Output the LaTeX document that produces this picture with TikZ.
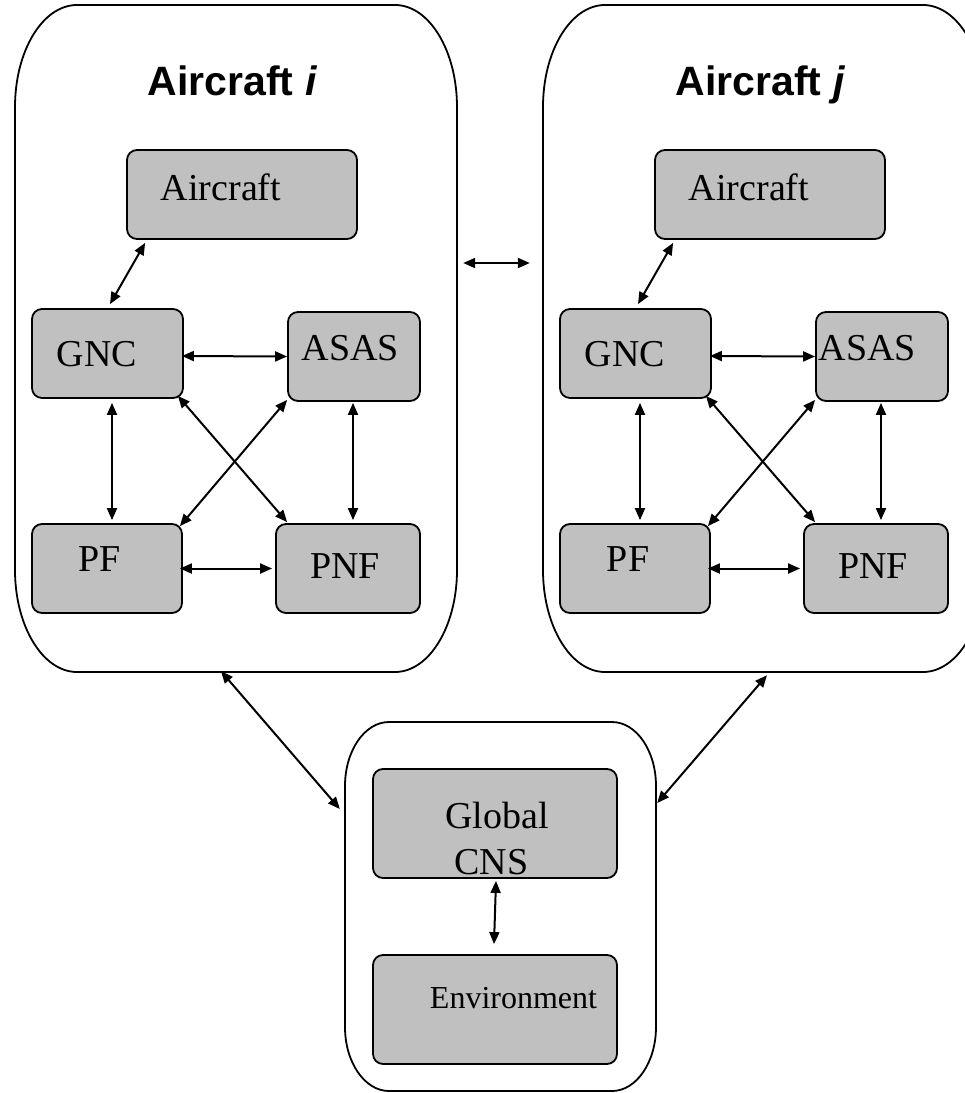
\documentclass[tikz,border=0pt]{standalone}
\usepackage{fontspec}
\setmainfont{Liberation Serif}
\newfontfamily\titlefont{Liberation Sans}
\usetikzlibrary{arrows.meta,calc}
\definecolor{boxgray}{RGB}{192,192,192}
\tikzset{
  blk/.style={draw=black, fill=boxgray, line width=1.8pt, rounded corners=10pt, inner sep=0pt},
  lbl/.style={anchor=base, inner sep=0pt, font=\fontsize{38}{45}\selectfont},
  ttl/.style={anchor=base, inner sep=0pt, font=\titlefont\bfseries\fontsize{41}{49}\selectfont},
  arr/.style={{Triangle[length=12pt,width=10pt]}-{Triangle[length=12pt,width=10pt]}, line width=2pt},
  outerbox/.style={draw=none, inner sep=0pt},
  frame/.style={line width=1.8pt, line join=round}
}
% #1 prefix, #2 x offset, #3 ASAS label x, #4 title letter
\newcommand\acblock[4]{%
  \node[ttl] (#1title) at ({#2+232.5},95) {Aircraft \textit{#4}};
  \node[blk, minimum width=230pt, minimum height=89pt] (#1air) at ({#2+242},194.5) {};
  \node[lbl] (#1airT) at ({#2+221},200) {Aircraft};
  \node[blk, minimum width=151pt, minimum height=89pt] (#1gnc) at ({#2+107.5},353.5) {};
  \node[lbl] (#1gncT) at ({#2+97},366) {GNC};
  \node[blk, minimum width=132pt, minimum height=89pt] (#1asas) at ({#2+354},356.5) {};
  \node[lbl] (#1asasT) at (#3,360) {ASAS};
  \node[blk, minimum width=150pt, minimum height=89pt] (#1pf) at ({#2+107},568.5) {};
  \node[lbl] (#1pfT) at ({#2+100},571) {PF};
  \node[blk, minimum width=144pt, minimum height=89pt] (#1pnf) at ({#2+348},568.5) {};
  \node[lbl] (#1pnfT) at ({#2+345},578) {PNF};
  \draw[arr] ($(#1air.south west)+(19,3)$) -- ($(#1gnc.north)+(2.5,-4)$);
  \draw[arr] ($(#1gnc.east)+(-2,2.5)$) -- ($(#1asas.west)+(0,0)$);
  \draw[arr] ($(#1gnc.south)+(4.5,4)$) -- ($(#1pf.north)+(5,-3)$);
  \draw[arr] ($(#1asas.south)+(-1,1)$) -- ($(#1pnf.north)+(5,-3)$);
  \draw[arr] ($(#1gnc.south east)+(-6,-3)$) -- ($(#1pnf.north west)+(12,-1)$);
  \draw[arr] ($(#1asas.south west)+(0,-2)$) -- ($(#1pf.north east)+(-3,3)$);
  \draw[arr] ($(#1pf.east)+(-3,0)$) -- ($(#1pnf.west)+(-3,0)$);
}
\begin{document}
\begin{tikzpicture}[x=1pt, y=-1pt]
\useasboundingbox (0,0) rectangle (965,1093);
\clip (0,0) rectangle (965,1093);
\fill[white] (0,0) rectangle (965,1093);

% outer frames (named placeholders + drawn outlines)
\node[outerbox, minimum width=442pt, minimum height=667pt] (boxI) at (236,338.5) {};
\node[outerbox, minimum width=442pt, minimum height=667pt] (boxJ) at (764,338.5) {};
\node[outerbox, minimum width=311pt, minimum height=369pt] (boxB) at (500.5,906.5) {};

\draw[frame] (77,5) -- (395,5) .. controls (429.2,5) and (457,50.7) .. (457,107)
  -- (457,570) .. controls (457,626.3) and (429.2,672) .. (395,672)
  -- (77,672) .. controls (42.8,672) and (15,626.3) .. (15,570)
  -- (15,107) .. controls (15,50.7) and (42.8,5) .. (77,5) -- cycle;
\draw[frame] (605,5) -- (923,5) .. controls (957.2,5) and (985,50.7) .. (985,107)
  -- (985,570) .. controls (985,626.3) and (957.2,672) .. (923,672)
  -- (605,672) .. controls (570.8,672) and (543,626.3) .. (543,570)
  -- (543,107) .. controls (543,50.7) and (570.8,5) .. (605,5) -- cycle;
\draw[frame] (389,722) -- (612,722) .. controls (636.3,722) and (656,750.7) .. (656,786)
  -- (656,1027) .. controls (656,1062.3) and (636.3,1091) .. (612,1091)
  -- (389,1091) .. controls (364.7,1091) and (345,1062.3) .. (345,1027)
  -- (345,786) .. controls (345,750.7) and (364.7,722) .. (389,722) -- cycle;

\acblock{i}{0}{350.5}{i}
\acblock{j}{528}{867.5}{j}

% bottom block
\node[blk, minimum width=244pt, minimum height=109pt] (cns) at (495,823.5) {};
\node[lbl] (cnsT1) at (497,828) {Global};
\node[lbl] (cnsT2) at (491.5,874) {CNS};
\node[blk, minimum width=244pt, minimum height=109pt] (env) at (495,1009.5) {};
\node[lbl, font=\fontsize{32}{38}\selectfont] (envT) at (513.5,1008) {Environment};
\draw[arr] ($(cns.south)+(1,2)$) -- ($(env.north)+(-1,-10)$);

% links between frames
\draw[arr] ($(boxI.east)+(6,-75.5)$) -- ($(boxJ.west)+(-13,-75.5)$);
\draw[arr] ($(boxI.south)+(-15,-1)$) -- ($(boxB.west)+(-5,-97.5)$);
\draw[arr] ($(boxJ.south)+(3,3)$) -- ($(boxB.east)+(1,-103.5)$);
\end{tikzpicture}
\end{document}
